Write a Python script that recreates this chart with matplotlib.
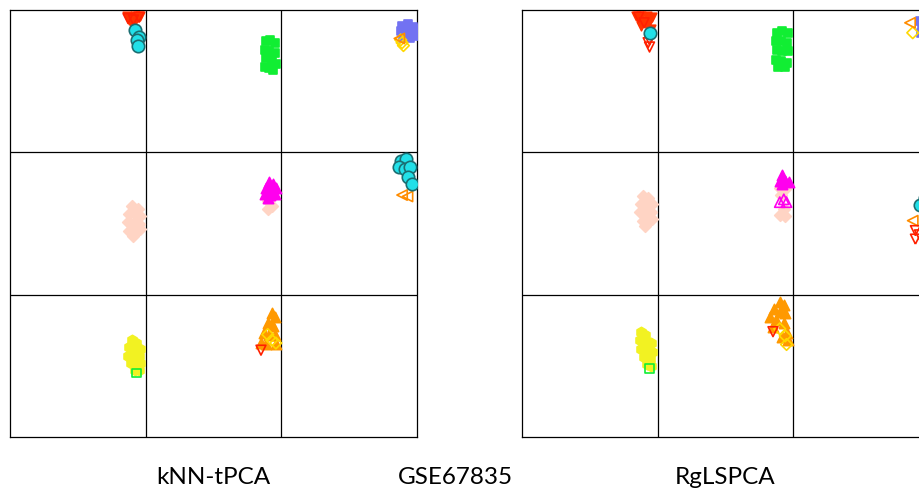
"""
	plot.py - two 3x3 map panels for GSE67835
"""

import matplotlib
matplotlib.use("Agg")
import matplotlib.pyplot as plt

# ---- data: kNN-tPCA panel (cell coords 0..3) ----
knn_red_x = [0.86, 0.89, 0.92, 0.95, 0.88, 0.92, 0.96, 0.90]
knn_red_y = [2.96, 2.95, 2.96, 2.95, 2.93, 2.92, 2.96, 2.90]
knn_cyan_x = [0.92, 0.95, 0.935, 0.943, 2.88, 2.92, 2.87, 2.91, 2.95, 2.93, 2.96]
knn_cyan_y = [2.86, 2.81, 2.79, 2.75, 1.94, 1.95, 1.90, 1.88, 1.90, 1.83, 1.78]
knn_green_x = [1.89, 1.92, 1.95, 1.88, 1.91, 1.95, 1.89, 1.93, 1.88, 1.91, 1.94, 1.96]
knn_green_y = [2.78, 2.79, 2.77, 2.72, 2.71, 2.70, 2.66, 2.65, 2.60, 2.59, 2.58, 2.62]
knn_blue_x = [2.89, 2.93, 2.97, 2.88, 2.92, 2.96, 2.99, 2.90, 2.95, 2.98]
knn_blue_y = [2.89, 2.90, 2.88, 2.85, 2.84, 2.85, 2.87, 2.80, 2.80, 2.82]
knn_peach_x = [0.90, 0.94, 0.88, 0.93, 0.96, 0.87, 0.91, 0.95, 0.88, 0.93, 0.96, 0.91,
               1.90, 1.93, 1.90]
knn_peach_y = [1.62, 1.60, 1.57, 1.56, 1.55, 1.51, 1.50, 1.50, 1.45, 1.44, 1.46, 1.41,
               1.66, 1.62, 1.60]
knn_magenta_x = [1.91, 1.94, 1.89, 1.93, 1.96, 1.88, 1.92, 1.95, 1.90]
knn_magenta_y = [1.79, 1.78, 1.75, 1.74, 1.75, 1.71, 1.70, 1.71, 1.68]
knn_orange_x = [1.93, 1.95, 1.90, 1.94, 1.87, 1.91, 1.95, 1.85, 1.89, 1.96]
knn_orange_y = [0.87, 0.84, 0.80, 0.78, 0.73, 0.72, 0.72, 0.66, 0.65, 0.65]
knn_yellow_x = [0.90, 0.93, 0.88, 0.92, 0.96, 0.87, 0.91, 0.95, 0.89, 0.93, 0.96, 0.92, 0.95]
knn_yellow_y = [0.68, 0.66, 0.63, 0.62, 0.62, 0.57, 0.57, 0.57, 0.52, 0.51, 0.52, 0.47, 0.47]
knn_ydia_x = [2.88, 2.90, 2.89, 1.90, 1.93, 1.96]
knn_ydia_y = [2.79, 2.75, 2.77, 0.72, 0.68, 0.66]
knn_oleft_x = [2.87, 2.89, 2.93]
knn_oleft_y = [2.80, 1.70, 1.69]
knn_redo_x = [1.85, 0.87, 0.91, 0.95]
knn_redo_y = [0.61, 2.94, 2.93, 2.95]
knn_greeno_x = [0.93]
knn_greeno_y = [0.45]
knn_magentao_x = []
knn_magentao_y = []

# ---- data: RgLSPCA panel ----
rg_red_x = [0.84, 0.88, 0.92, 0.96, 0.86, 0.90, 0.94, 0.88, 0.92, 0.95]
rg_red_y = [2.96, 2.96, 2.96, 2.95, 2.93, 2.92, 2.93, 2.89, 2.89, 2.87]
rg_cyan_x = [0.94, 2.93, 2.97]
rg_cyan_y = [2.84, 1.63, 1.68]
rg_green_x = [1.88, 1.92, 1.96, 1.87, 1.91, 1.95, 1.88, 1.92, 1.96, 1.87, 1.91, 1.95, 1.89, 1.94]
rg_green_y = [2.84, 2.85, 2.84, 2.78, 2.78, 2.77, 2.72, 2.71, 2.71, 2.65, 2.64, 2.63, 2.60, 2.60]
rg_blue_x = [2.93, 2.96, 2.95, 2.99, 2.94, 2.97, 2.96, 2.99]
rg_blue_y = [2.92, 2.93, 2.88, 2.90, 2.84, 2.83, 2.78, 2.76]
rg_peach_x = [0.89, 0.93, 0.88, 0.92, 0.96, 0.87, 0.91, 0.95, 0.89, 0.93, 0.96, 0.91,
              1.90, 1.94, 1.91, 1.93, 1.90, 1.94]
rg_peach_y = [1.69, 1.68, 1.64, 1.63, 1.64, 1.58, 1.57, 1.58, 1.52, 1.51, 1.53, 1.48,
              1.75, 1.74, 1.70, 1.60, 1.56, 1.55]
rg_magenta_x = [1.92, 1.90, 1.94, 1.97, 1.92]
rg_magenta_y = [1.84, 1.80, 1.80, 1.79, 1.78]
rg_orange_x = [1.90, 1.93, 1.86, 1.90, 1.94, 1.83, 1.87, 1.93, 1.85, 1.95, 1.92, 1.96]
rg_orange_y = [0.95, 0.93, 0.90, 0.88, 0.87, 0.84, 0.82, 0.80, 0.77, 0.73, 0.70, 0.68]
rg_yellow_x = [0.88, 0.91, 0.87, 0.91, 0.95, 0.88, 0.92, 0.96, 0.90, 0.94, 0.92, 0.95]
rg_yellow_y = [0.74, 0.72, 0.68, 0.67, 0.66, 0.62, 0.61, 0.60, 0.56, 0.55, 0.51, 0.50]
rg_ydia_x = [2.88, 1.90, 1.94, 1.95]
rg_ydia_y = [2.84, 0.76, 0.71, 0.65]
rg_oleft_x = [2.86, 2.88]
rg_oleft_y = [2.91, 1.52]
rg_redo_x = [0.94, 0.94, 0.93, 2.90, 2.93, 2.90, 1.85, 0.86, 0.90]
rg_redo_y = [2.79, 2.74, 2.77, 1.45, 1.42, 1.39, 0.74, 2.95, 2.91]
rg_greeno_x = [0.94]
rg_greeno_y = [0.48]
rg_magentao_x = [1.90, 1.95, 1.93]
rg_magentao_y = [1.65, 1.65, 1.67]

titles = ["kNN-tPCA", "GSE67835", "RgLSPCA"]

# marker styles: (marker, face, edge, size)
styles = {
	"red": ("v", "#ff3300", "#ff3300", 38),
	"cyan": ("o", "#22e0e8", "#1b6e72", 80),
	"green": ("s", "#11ee33", "#11ee33", 40),
	"blue": ("s", "#7272f2", "#7272f2", 40),
	"peach": ("D", "#ffd4c4", "#ffd4c4", 35),
	"magenta": ("^", "#ff00ee", "#ff00ee", 55),
	"orange": ("^", "#ff9900", "#ff9900", 55),
	"yellow": ("h", "#f2f222", "#f2f222", 55),
	"ydia": ("D", "none", "#ffd800", 35),
	"oleft": ("<", "none", "#ff8c00", 55),
	"redo": ("v", "none", "#ff2000", 50),
	"greeno": ("s", "none", "#11ee33", 40),
	"magentao": ("^", "none", "#ff00ee", 55),
}


def drawPanel(ax, series):
	for name in ["peach", "yellow", "green", "blue", "orange", "magenta", "red",
				 "ydia", "oleft", "redo", "greeno", "magentao", "cyan"]:
		xs, ys = series[name]
		if len(xs) == 0:
			continue
		m, fc, ec, s = styles[name]
		ax.scatter(xs, ys, marker=m, s=s, facecolors=fc, edgecolors=ec,
				   linewidths=1.2, zorder=3, clip_on=True)
	for v in [1, 2]:
		ax.axvline(v, color="black", lw=0.9, zorder=2)
		ax.axhline(v, color="black", lw=0.9, zorder=2)
	ax.set_xlim(0, 3)
	ax.set_ylim(0, 3)
	ax.set_xticks([])
	ax.set_yticks([])
	for sp in ax.spines.values():
		sp.set_linewidth(0.9)


knn = {
	"red": (knn_red_x, knn_red_y), "cyan": (knn_cyan_x, knn_cyan_y),
	"green": (knn_green_x, knn_green_y), "blue": (knn_blue_x, knn_blue_y),
	"peach": (knn_peach_x, knn_peach_y), "magenta": (knn_magenta_x, knn_magenta_y),
	"orange": (knn_orange_x, knn_orange_y), "yellow": (knn_yellow_x, knn_yellow_y),
	"ydia": (knn_ydia_x, knn_ydia_y), "oleft": (knn_oleft_x, knn_oleft_y),
	"redo": (knn_redo_x, knn_redo_y), "greeno": (knn_greeno_x, knn_greeno_y),
	"magentao": (knn_magentao_x, knn_magentao_y),
}
rg = {
	"red": (rg_red_x, rg_red_y), "cyan": (rg_cyan_x, rg_cyan_y),
	"green": (rg_green_x, rg_green_y), "blue": (rg_blue_x, rg_blue_y),
	"peach": (rg_peach_x, rg_peach_y), "magenta": (rg_magenta_x, rg_magenta_y),
	"orange": (rg_orange_x, rg_orange_y), "yellow": (rg_yellow_x, rg_yellow_y),
	"ydia": (rg_ydia_x, rg_ydia_y), "oleft": (rg_oleft_x, rg_oleft_y),
	"redo": (rg_redo_x, rg_redo_y), "greeno": (rg_greeno_x, rg_greeno_y),
	"magentao": (rg_magentao_x, rg_magentao_y),
}

W, H = 919, 491
fig = plt.figure(figsize=(W / 100, H / 100), dpi=100)
ax1 = fig.add_axes([10 / W, 1 - 437 / H, 407 / W, 427 / H])
ax2 = fig.add_axes([522 / W, 1 - 437 / H, 407 / W, 427 / H])
drawPanel(ax1, knn)
drawPanel(ax2, rg)

for t, px in zip(titles, [213, 455, 725]):
	fig.text(px / W, 1 - 478 / H, t, ha="center", va="center",
			 fontsize=17.5, family=["Lato", "DejaVu Sans"])

fig.savefig("out.png", dpi=100)
